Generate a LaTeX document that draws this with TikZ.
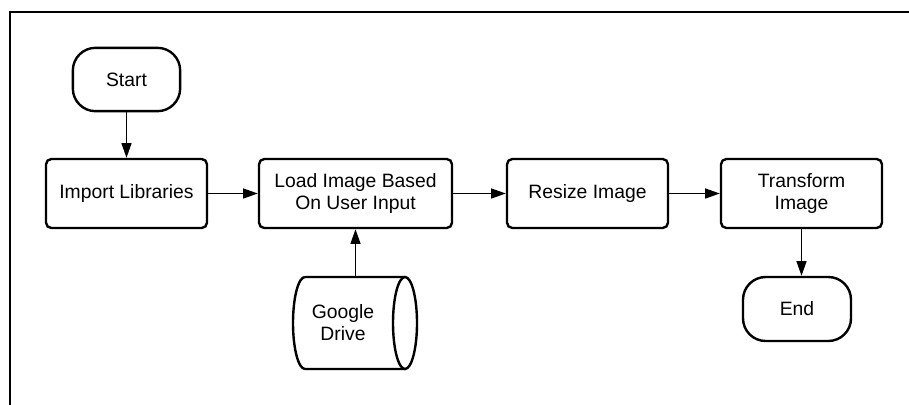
\documentclass[tikz,border=0pt]{standalone}
\usepackage{fontspec}
\setmainfont{Liberation Sans}
\usetikzlibrary{arrows.meta}
\begin{document}
\begin{tikzpicture}[x=0.75pt,y=0.75pt,
  font=\fontsize{14.5}{16.5}\selectfont,
  process/.style={draw, line width=1.8pt, rounded corners=4pt, inner sep=0pt,
    minimum width=120.75pt, minimum height=51.75pt, align=center},
  terminal/.style={draw, line width=1.8pt, rounded corners=17pt, inner sep=0pt,
    minimum width=80.5pt, minimum height=47.5pt, align=center},
  flow/.style={line width=1pt, -{Triangle[length=11pt,width=7.5pt]}},
  frame/.style={line width=1.5pt}]
\useasboundingbox (0,0) rectangle (909,-404);
% outer frame (top and left edges)
\draw[frame] (10,-420) -- (10,-12) -- (925,-12);

% steps
\node[terminal] (start) at (126.5,-79.5) {Start};
\node[process] (import) at (126.5,-193.5) {Import Libraries};
\node[process, minimum width=144.75pt] (load) at (355.5,-193.5) {Load Image Based\\On User Input};
\node[process] (resize) at (587.5,-193.5) {Resize Image};
\node[process] (transform) at (801.5,-193.5) {Transform\\Image};
\node[terminal, minimum width=81pt, minimum height=48pt] (end) at (797,-309) {End};

% data store: horizontal cylinder
\node[inner sep=0pt, minimum width=75pt, minimum height=69pt, align=center] (drive) at (343,-323) {Google\\Drive};
\draw[line width=1.8pt] (305,-277) -- (405,-277)
  (305,-369) -- (405,-369)
  (305,-277) arc[start angle=90, end angle=270, x radius=12, y radius=46];
\draw[line width=1.8pt] (405,-323) ellipse[x radius=12, y radius=46];

% connectors
\draw[flow] (start.south) -- (import.north);
\draw[flow] (import.east) -- (load.west);
\draw[flow] (load.east) -- (resize.west);
\draw[flow] (resize.east) -- (transform.west);
\draw[flow] (transform.south) -- (transform.south |- end.north);
\draw[flow] (load.south |- drive.north) -- (load.south);
\end{tikzpicture}
\end{document}
